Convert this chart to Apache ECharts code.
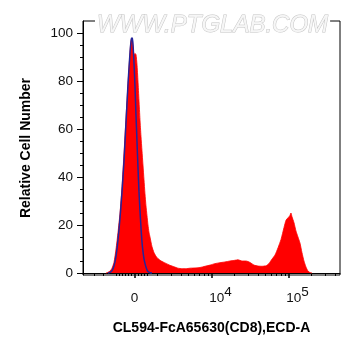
<!DOCTYPE html>
<html>
<head>
<meta charset="utf-8">
<script src="https://cdn.jsdelivr.net/npm/echarts@6/dist/echarts.min.js"></script>
<style>html,body{margin:0;padding:0;background:#fff;}#c{width:361px;height:356px;}</style>
</head>
<body>
<div id="c"></div>
<script>
// x positions in display units (decades: 3 = "0", 4 = 10^4, 5 = 10^5)
const redX = [2.630,2.656,2.682,2.708,2.734,2.760,2.786,2.812,2.838,2.864,2.890,2.916,2.942,2.955,2.968,2.981,2.994,3.006,3.019,3.032,3.045,3.058,3.071,3.084,3.097,3.110,3.123,3.136,3.149,3.162,3.175,3.188,3.201,3.227,3.253,3.279,3.305,3.331,3.370,3.409,3.461,3.513,3.565,3.617,3.669,3.721,3.786,3.851,3.916,3.981,4.045,4.110,4.175,4.240,4.305,4.344,4.396,4.448,4.500,4.552,4.604,4.656,4.708,4.747,4.786,4.825,4.864,4.903,4.942,4.968,4.994,5.019,5.032,5.045,5.071,5.097,5.123,5.149,5.175,5.201,5.227,5.253,5.279,5.305];
const redY = [0,0.3,0.8,2,4.5,10,17,25,36,50,65,79,92,97,98,94,91,91.5,91,87,80,72,64,57,51,45,39,33,28,24,20,17,15,11,8.5,7,6,5.3,4.6,4.0,3.2,2.6,2.0,1.8,1.8,2.0,2.1,2.3,2.8,3.3,3.9,4.3,4.6,5.0,5.3,5.5,5.0,5.0,4.4,3.3,2.9,2.8,3.0,4.0,5.8,7.5,10.5,14,19,22,23,24,25,23.5,21,17.5,15,12.5,8.5,5,2.5,0.8,0.2,0];
const blueX = [2.656,2.682,2.708,2.734,2.760,2.786,2.812,2.838,2.864,2.890,2.916,2.942,2.955,2.968,2.981,2.994,3.006,3.019,3.032,3.045,3.058,3.071,3.084,3.097,3.110,3.123,3.136,3.149,3.162,3.175,3.201,3.227];
const blueY = [0,0.3,1,3,7,14,23,34,47,63,79,92,96.5,98.5,95,87,78,66,55,44,34,26,19,13,9,6,4,2.5,1.3,0.6,0.1,0];

const xTickValues = [3, 4, 5];
const xTickBase = ['0', '10', '10'];
const xTickExp = ['', '4', '5'];
const xMinorTicks = [2.474,2.591,2.760,2.799,2.838,2.877,2.916,2.955,3.045,3.084,3.123,3.162,3.301,3.477,3.602,3.699,3.778,3.845,3.903,3.954,4.301,4.477,4.602,4.699,4.778,4.845,4.903,4.954,5.301,5.477,5.602];
const yTickValues = [0, 20, 40, 60, 80, 100];
const yMinorTicks = [5,10,15,25,30,35,45,50,55,65,70,75,85,90,95];

const FONT = 'Liberation Sans, Arial, sans-serif';
const X_MIN = 2.331, X_MAX = 5.669, Y_MIN = -0.833, Y_MAX = 105;

const chart = echarts.init(document.getElementById('c'), null, {renderer: 'canvas'});
const pairs = (xs, ys) => xs.map((x, i) => [x, ys[i]]);

chart.setOption({
  animation: false,
  backgroundColor: '#fff',
  grid: {left: 83, right: 21, top: 21, bottom: 81, show: true, borderColor: '#000', borderWidth: 1, backgroundColor: 'transparent'},
  xAxis: [{
    type: 'value', min: X_MIN, max: X_MAX, position: 'bottom',
    name: 'CL594-FcA65630(CD8),ECD-A', nameLocation: 'middle', nameGap: 46,
    nameTextStyle: {fontFamily: FONT, fontWeight: 'bold', fontSize: 14, color: '#000'},
    axisLine: {show: true, lineStyle: {color: '#000', width: 1}},
    axisTick: {show: true, length: 5, customValues: xTickValues, lineStyle: {color: '#000', width: 1.5}},
    splitLine: {show: false},
    axisLabel: {
      show: true, customValues: xTickValues, margin: 10, color: '#111', fontFamily: FONT,
      formatter: function (v) {
        const i = xTickValues.indexOf(v);
        if (i < 0) return '';
        if (!xTickExp[i]) return '{b|' + xTickBase[i] + '}';
        return '{sp|}{b|' + xTickBase[i] + '}{sup|' + xTickExp[i] + '}';
      },
      rich: {
        b: {fontSize: 13.5, fontFamily: FONT, color: '#111', lineHeight: 20, verticalAlign: 'bottom'},
        sup: {fontSize: 13.5, fontFamily: FONT, color: '#111', lineHeight: 20, verticalAlign: 'top'},
        sp: {width: 18, lineHeight: 20}
      }
    }
  }, {
    type: 'value', min: X_MIN, max: X_MAX, position: 'bottom',
    axisLine: {show: false},
    axisTick: {show: true, length: 3, customValues: xMinorTicks, lineStyle: {color: '#000', width: 1}},
    axisLabel: {show: false}, splitLine: {show: false}
  }],
  yAxis: [{
    type: 'value', min: Y_MIN, max: Y_MAX, position: 'left',
    name: 'Relative Cell Number', nameLocation: 'middle', nameGap: 50,
    nameTextStyle: {fontFamily: FONT, fontWeight: 'bold', fontSize: 14, color: '#000'},
    axisLine: {show: true, lineStyle: {color: '#000', width: 1}},
    axisTick: {show: true, length: 6, customValues: yTickValues, lineStyle: {color: '#000', width: 1}},
    axisLabel: {show: true, customValues: yTickValues, margin: 10, fontSize: 13.5, fontFamily: FONT, color: '#111'},
    splitLine: {show: false}
  }, {
    type: 'value', min: Y_MIN, max: Y_MAX, position: 'left',
    axisLine: {show: false},
    axisTick: {show: true, length: 3, customValues: yMinorTicks, lineStyle: {color: '#000', width: 1}},
    axisLabel: {show: false}, splitLine: {show: false}
  }],
  series: [{
    type: 'line', name: 'CD8', xAxisIndex: 0, yAxisIndex: 0,
    data: pairs(redX, redY), showSymbol: false, smooth: 0.2,
    lineStyle: {color: '#ff0000', width: 0.8},
    areaStyle: {color: '#ff0000', opacity: 1},
    z: 2
  }, {
    type: 'line', name: 'Isotype', xAxisIndex: 0, yAxisIndex: 0,
    data: pairs(blueX, blueY), showSymbol: false, smooth: 0.2,
    lineStyle: {color: '#24249a', width: 1.5},
    z: 3
  }],
  graphic: [{
    type: 'text', left: 95, top: 13, z: 10,
    style: {
      text: 'WWW.PTGLAB.COM',
      x: 0, y: 0,
      font: 'italic 24px ' + FONT,
      fill: '#f6f6f6', stroke: '#c4c4c4', lineWidth: 1,
      backgroundColor: '#fff', padding: [0, 2]
    }
  }]
});
</script>
</body>
</html>
